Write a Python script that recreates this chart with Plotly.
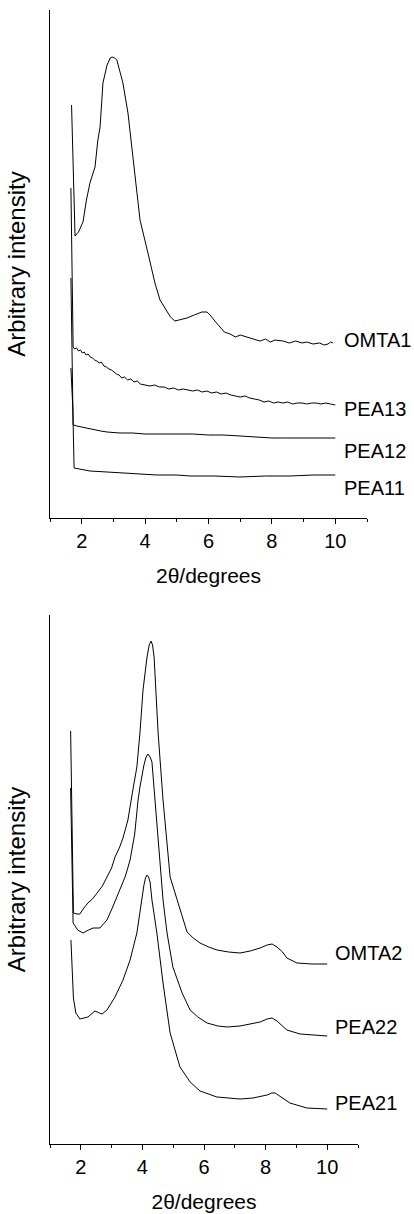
import plotly.graph_objects as go

# ---------------- Top panel data ----------------
omta1_x = [1.68, 1.79, 1.90, 2.04, 2.15, 2.26, 2.42, 2.51, 2.58, 2.67, 2.80, 2.90, 2.96, 3.04, 3.11, 3.21,
           3.30, 3.46, 3.62, 3.84, 4.09, 4.31, 4.47, 4.63, 4.80, 4.94, 5.10, 5.32, 5.55, 5.79, 5.95, 6.05,
           6.20, 6.36, 6.50, 6.68, 6.85, 7.00, 7.21, 7.40, 7.62, 7.80, 7.95, 8.10, 8.35, 8.55, 8.75, 8.95,
           9.10, 9.30, 9.50, 9.65, 9.77, 9.85, 9.93]
omta1_y = [413, 282, 286, 296, 318, 335, 351, 378, 391, 435, 453, 460, 461, 460, 458, 446,
           435, 405, 361, 298, 265, 235, 218, 210, 201, 197, 198, 200, 203, 206, 206, 203,
           197, 191, 186, 184, 181, 183, 181, 179, 177, 179, 176, 178, 177, 175, 177, 175,
           176, 174, 175, 173, 174, 176, 175]

pea13_x = [1.66, 1.73, 1.78, 1.84, 1.90, 1.96, 2.02, 2.08, 2.14, 2.20, 2.27, 2.34, 2.41, 2.48,
           2.55, 2.62, 2.70, 2.78, 2.86, 2.94, 3.02, 3.10, 3.18, 3.26, 3.35, 3.45, 3.55, 3.65,
           3.75, 3.85, 4.00, 4.15, 4.30, 4.45, 4.60, 4.75, 4.90, 5.05, 5.20, 5.35, 5.50, 5.65,
           5.80, 5.95, 6.10, 6.25, 6.40, 6.55, 6.70, 6.85, 7.00, 7.15, 7.30, 7.45, 7.60, 7.75,
           7.90, 8.05, 8.20, 8.35, 8.50, 8.65, 8.80, 8.95, 9.10, 9.25, 9.40, 9.55, 9.70, 9.85, 10.0]
pea13_y = [330, 171, 169, 170, 167, 168, 165, 166, 163, 164, 161, 160, 158, 157,
           155, 156, 152, 151, 149, 148, 146, 144, 143, 140, 141, 138, 139, 136,
           137, 134, 133, 132, 133, 131, 131, 129, 130, 128, 129, 128, 127, 128,
           126, 127, 125, 126, 124, 125, 123, 122, 121, 122, 120, 119, 118, 116,
           117, 115, 116, 115, 116, 114, 115, 115, 114, 115, 115, 114, 115, 114, 113]

pea12_x = [1.66, 1.73, 1.85, 2.04, 2.30, 2.60, 2.80, 3.21, 3.60, 4.00, 4.50, 4.88, 5.50, 6.00,
           6.46, 7.00, 7.40, 8.00, 8.50, 8.89, 9.50, 10.0]
pea12_y = [240, 93, 92, 91, 89, 87, 86, 85, 85, 84, 84, 84, 84, 83,
           83, 82, 81, 80, 80, 80, 80, 80]

pea11_x = [1.66, 1.72, 1.76, 1.90, 2.26, 2.80, 3.30, 3.80, 4.38, 5.00, 5.42, 6.20, 6.99, 7.80,
           8.57, 9.30, 10.0]
pea11_y = [150, 110, 50, 49, 47, 46, 45, 44, 43, 43, 42, 42, 41, 42,
           42, 43, 43]

# ---------------- Bottom panel data ----------------
omta2_x = [1.67, 1.76, 1.88, 1.97, 2.10, 2.23, 2.38, 2.53, 2.70, 2.85, 3.00, 3.11, 3.25, 3.37,
           3.53, 3.69, 3.82, 3.92, 4.02, 4.15, 4.22, 4.28, 4.33, 4.38, 4.51, 4.67, 4.90, 5.06,
           5.29, 5.45, 5.65, 5.87, 6.15, 6.42, 6.80, 7.17, 7.50, 7.82, 8.05, 8.21, 8.37, 8.55,
           8.69, 9.02, 9.50, 10.0]
omta2_y = [413, 231, 230, 230, 236, 241, 245, 251, 258, 267, 276, 287, 296, 306,
           324, 354, 377, 411, 454, 487, 499, 503, 499, 487, 411, 344, 267, 251,
           227, 212, 206, 201, 197, 194, 192, 191, 193, 196, 199, 200, 197, 192,
           186, 181, 180, 180]

pea22_x = [1.67, 1.75, 1.90, 2.07, 2.25, 2.40, 2.62, 2.85, 3.05, 3.27, 3.45, 3.60, 3.75, 3.86,
           3.92, 4.05, 4.12, 4.18, 4.25, 4.31, 4.41, 4.57, 4.67, 4.80, 4.99, 5.29, 5.55, 5.80,
           6.10, 6.45, 6.75, 7.17, 7.50, 7.82, 8.05, 8.21, 8.37, 8.55, 8.69, 9.12, 9.54, 10.0]
pea22_y = [356, 221, 214, 211, 214, 216, 216, 224, 238, 254, 268, 284, 310, 344,
           357, 379, 387, 390, 387, 382, 344, 277, 244, 211, 177, 151, 134, 127,
           121, 118, 117, 118, 120, 122, 125, 126, 123, 118, 114, 110, 109, 108]

pea21_x = [1.68, 1.76, 1.84, 1.97, 2.23, 2.46, 2.60, 2.69, 2.85, 3.11, 3.37, 3.60, 3.82, 3.92,
           4.05, 4.10, 4.15, 4.20, 4.25, 4.31, 4.47, 4.67, 4.90, 5.22, 5.55, 5.87, 6.42, 7.17,
           7.59, 8.05, 8.20, 8.31, 8.53, 8.79, 9.34, 10.0]
pea21_y = [204, 146, 131, 125, 127, 133, 131, 130, 134, 147, 164, 184, 211, 234,
           259, 266, 269, 267, 262, 244, 211, 161, 111, 77, 62, 53, 47, 45,
           46, 49, 51, 51, 46, 41, 36, 35]

top_names = ["OMTA1", "PEA13", "PEA12", "PEA11"]
top_label_y = [178, 109, 67, 30]
bottom_names = ["OMTA2", "PEA22", "PEA21"]
bottom_label_y = [191, 117, 41]
x_ticks = [2, 4, 6, 8, 10]
x_minor_ticks = [1, 3, 5, 7, 9, 11]

W, H = 414, 1214
FONT = "Liberation Sans, Arial, Helvetica, sans-serif"
line = dict(color="black", width=1)

fig = go.Figure()
for name, xs, ys in zip(top_names, [omta1_x, pea13_x, pea12_x, pea11_x],
                        [omta1_y, pea13_y, pea12_y, pea11_y]):
    fig.add_trace(go.Scatter(x=xs, y=ys, mode="lines", line=line, name=name,
                             xaxis="x", yaxis="y", showlegend=False))
for name, xs, ys in zip(bottom_names, [omta2_x, pea22_x, pea21_x],
                        [omta2_y, pea22_y, pea21_y]):
    fig.add_trace(go.Scatter(x=xs, y=ys, mode="lines", line=line, name=name,
                             xaxis="x2", yaxis="y2", showlegend=False))


def xax(domain, anchor):
    return dict(domain=domain, anchor=anchor, range=[1, 11], showline=True, linecolor="black",
                linewidth=1, ticks="outside", ticklen=5, tickcolor="black", tickwidth=1,
                tickvals=x_ticks, showgrid=False, zeroline=False, automargin=False,
                tickfont=dict(family=FONT, size=20, color="black"),
                minor=dict(tickvals=x_minor_ticks, ticks="outside", ticklen=3,
                           tickcolor="black", tickwidth=1, showgrid=False),
                title=dict(text="2θ/degrees", standoff=17,
                           font=dict(family=FONT, size=21, color="black")))


def yax(domain, anchor, rng):
    return dict(domain=domain, anchor=anchor, range=rng, showline=True, linecolor="black",
                linewidth=1, ticks="", showticklabels=False, showgrid=False, zeroline=False,
                automargin=False,
                title=dict(text="Arbitrary intensity", standoff=16,
                           font=dict(family=FONT, size=24, color="black")))


fig.update_layout(
    width=W, height=H, margin=dict(l=0, r=0, t=0, b=0),
    paper_bgcolor="white", plot_bgcolor="white",
    xaxis=xax([50 / W, 367 / W], "y"),
    yaxis=yax([1 - 518 / H, 1 - 10 / H], "x", [0, 508]),
    xaxis2=xax([50 / W, 358 / W], "y2"),
    yaxis2=yax([1 - 1144 / H, 1 - 615 / H], "x2", [0, 529]),
)

for name, yv in zip(top_names, top_label_y):
    fig.add_annotation(x=10.2, y=yv, xref="x", yref="y", text=name, showarrow=False,
                       xanchor="left", yanchor="middle",
                       font=dict(family=FONT, size=20, color="black"))
for name, yv in zip(bottom_names, bottom_label_y):
    fig.add_annotation(x=10.2, y=yv, xref="x2", yref="y2", text=name, showarrow=False,
                       xanchor="left", yanchor="middle",
                       font=dict(family=FONT, size=20, color="black"))

fig.write_html("out.html", config={"displayModeBar": False},
               post_script="document.body.style.margin='0px';")
